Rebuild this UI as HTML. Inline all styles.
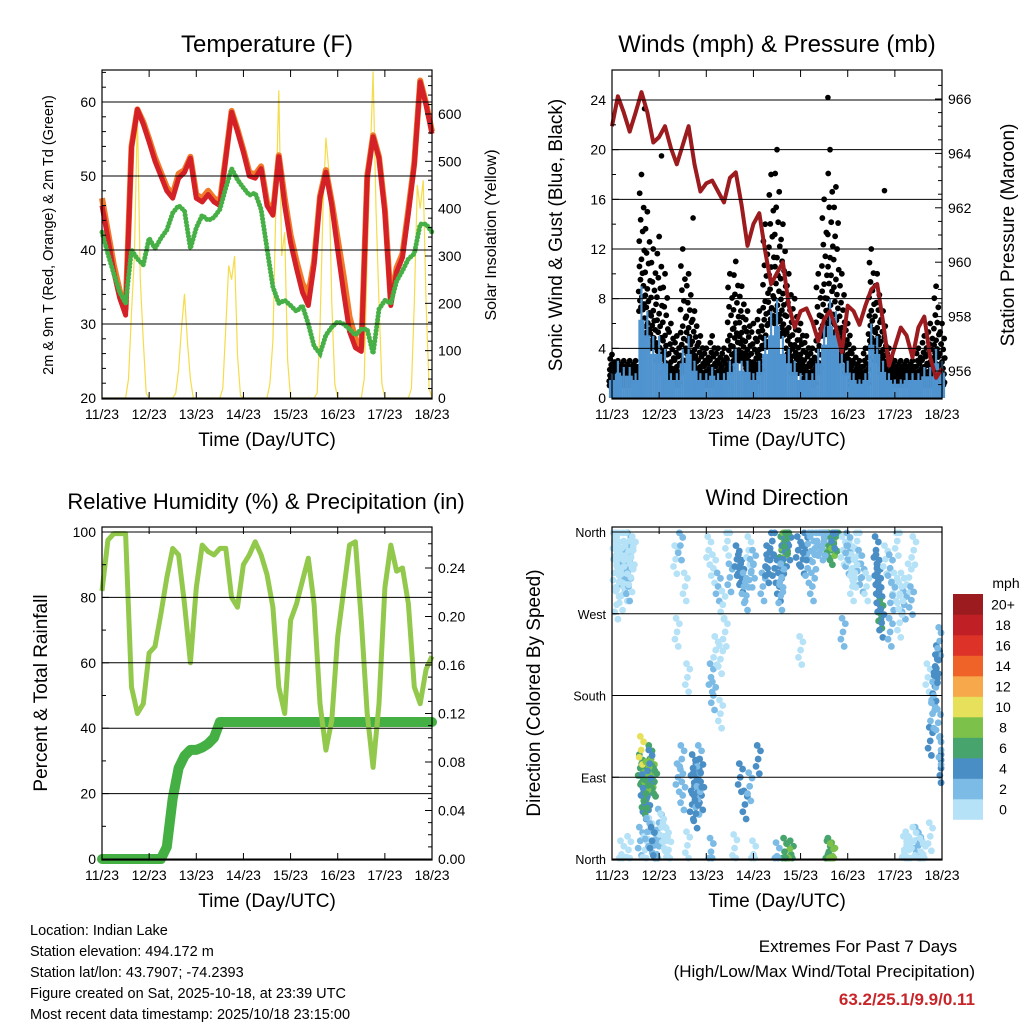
<!DOCTYPE html>
<html><head><meta charset="utf-8">
<style>
html,body{margin:0;padding:0;background:#fff;}
svg{display:block;font-family:"Liberation Sans",Arial,sans-serif;}
</style></head>
<body>
<svg id="fig" width="1024" height="1024" viewBox="0 0 1024 1024">
<text x="267" y="52" font-size="24" text-anchor="middle">Temperature (F)</text>
<text x="777" y="52" font-size="24" text-anchor="middle">Winds (mph) &amp; Pressure (mb)</text>
<text x="266" y="509" font-size="22" text-anchor="middle">Relative Humidity (%) &amp; Precipitation (in)</text>
<text x="777" y="505" font-size="22" text-anchor="middle">Wind Direction</text>
<text transform="translate(53,235) rotate(-90)" font-size="14.5" text-anchor="middle">2m &amp; 9m T (Red, Orange) &amp; 2m Td (Green)</text>
<text transform="translate(496,235) rotate(-90)" font-size="16" text-anchor="middle">Solar Insolation (Yellow)</text>
<text transform="translate(562,235) rotate(-90)" font-size="19" text-anchor="middle">Sonic Wind &amp; Gust (Blue, Black)</text>
<text transform="translate(1014,235) rotate(-90)" font-size="19" text-anchor="middle">Station Pressure (Maroon)</text>
<text transform="translate(47,693) rotate(-90)" font-size="19" text-anchor="middle">Percent &amp; Total Rainfall</text>
<text transform="translate(540,693) rotate(-90)" font-size="19" text-anchor="middle">Direction (Colored By Speed)</text>
<g font-size="14.5">
<text x="30" y="935">Location: Indian Lake</text>
<text x="30" y="956">Station elevation: 494.172 m</text>
<text x="30" y="977">Station lat/lon: 43.7907; -74.2393</text>
<text x="30" y="998">Figure created on Sat, 2025-10-18, at 23:39 UTC</text>
<text x="30" y="1019">Most recent data timestamp: 2025/10/18 23:15:00</text>
</g>
<text x="858" y="952" font-size="17" text-anchor="middle">Extremes For Past 7 Days</text>
<text x="975" y="977" font-size="17" text-anchor="end">(High/Low/Max Wind/Total Precipitation)</text>
<text x="975" y="1005" font-size="17" font-weight="bold" fill="#c8252a" text-anchor="end">63.2/25.1/9.9/0.11</text>
</svg>
<script>
// ---- shared time axis ----
const dayLabels = ["11/23","12/23","13/23","14/23","15/23","16/23","17/23","18/23"];
// ---- temperature panel data (3-hourly, days 0..7) ----
const tempRed = [46,41.6,37,33.5,31.2,53.8,59,57,54.6,52,50,48,47,49.7,50.5,52.4,47,46.5,47.5,46.5,46,52.4,58.6,56,53.2,50,49.7,51,46,44.7,52.6,46,41,37.5,34.3,32.5,38,47,50.5,46,40,34.3,29,26.8,26.3,49.7,55.3,52.4,45,32.5,37,39,45,51.5,62.7,59.6,55.7];
const tempOrange = [47,42.5,38,34.5,32,54,59,57.3,55,52.5,50.5,48.5,47.5,50.3,50.8,52.6,47.5,47,48,47,46.5,52.6,58.8,56.3,53.5,50.5,50.2,51.3,46.5,45,52.8,47,42,38.5,35.5,34,38.5,47.3,50.8,46.5,41.5,36.5,31,28,26.8,50,55.5,52.6,45.5,33,37.6,39.5,45.5,51.8,62.9,59.8,56];
const dewGreen = [42.4,39.5,36.8,34.3,32.8,40,38.8,38,41.6,40.2,41.6,42.7,45,46,45.3,40.2,43,44.7,44,44.4,45.5,48.4,51,49.5,48.4,47.4,47.7,45.5,40.2,35,32.8,33.2,32.5,31.7,32.5,30,27,26,28.5,29.6,30.3,30,29.3,28.5,29.3,29.3,26,32,33.2,32.8,35.8,37.2,38.8,39.5,43.5,43.5,42.4];
// solar insolation (W/m2), every 1.5 h
const solar = [0,0,0,0,0,0,0,0,0,40,180,300,600,250,120,10,
0,0,0,0,0,0,0,0,0,10,60,150,220,120,40,0,
0,0,0,0,0,0,0,0,0,20,150,280,250,300,90,5,
0,0,0,0,0,0,0,0,0,30,120,400,650,300,350,80,
0,0,0,0,0,0,0,0,0,10,150,400,550,480,200,30,
0,0,0,0,0,0,0,0,0,40,300,500,690,400,200,30,
0,0,0,0,0,0,0,0,0,20,200,450,400,460,200,20,0];
const tempTicks = [20,30,40,50,60];
const solarTicks = [0,100,200,300,400,500,600];
// ---- wind panel data (3-hourly) ----
const gustHi = [3.5,3,3,3,3,18,15,12,13,10,6,5,12,10,7,5,4,5,4,4,10,11,9,7,6,7,14,18,20,14,10,8,6,5,4,10,16,20,17,10,6,4,3,4,12,10,7,4,3,3,3,3,4,5,6,9,6];
const gustLo = [1,1,1,1,1,7,5,4,3,2,1,1,2,3,2,1,1,1,1,1,2,3,3,2,1,2,4,6,6,5,3,2,2,1,1,2,5,6,5,3,2,1,1,1,4,3,2,1,1,1,1,1,1,1,1,2,1];
const windHi = [2,3,2.5,2.5,2,9,7,5,5,4,2,2,4,5,3,2,2,2.5,2,2,3,4,3,3,2,3,5,7,8,5,4,3,2,2,2,4,6,8,7,4,3,2,1.5,2,6,5,3,2,1.5,1.5,2,2,2,2.5,2.5,4,3];
const windLo = [0.3,0.5,0.5,0.5,0.3,3,2.5,1.5,1.5,1,0.3,0.3,1,1.5,0.8,0.3,0.3,0.5,0.3,0.3,0.6,1,0.8,0.6,0.3,0.6,1.5,2.5,3,1.5,1,0.6,0.3,0.3,0.3,1,2,3,2.5,1,0.5,0.3,0.2,0.3,2,1.5,0.6,0.3,0.2,0.2,0.3,0.3,0.3,0.4,0.4,1,0.5];
const gustOutT = [0.69,4.58,5.78,1.05,1.72];
const gustOutV = [23.3,24.2,16.7,19.5,14.5];
const pressure = [965,966.1,965.5,964.8,965.5,966.25,965.5,964.4,964.6,965,964.2,963.6,964.3,965,963.6,962.6,962.9,963,962.6,962.2,963.1,963.3,962.1,960.6,961.4,961.8,960.4,959.2,959.6,960,958.4,957.6,958.2,958.3,957.8,957.1,957.9,958.2,957.6,956.7,958.4,958.2,957.7,958.4,959,959.2,957.8,956.2,956.9,957.6,957.3,956.5,957.6,958,956.5,955.75,956.1];
const windTicks = [0,4,8,12,16,20,24];
const presTicks = [956,958,960,962,964,966];
// ---- humidity panel ----
const rh = [82,97.5,99.5,99.5,99.5,52.6,44.5,47.5,63,65,75,86,95,93,78,60,83,96,94,93,95,95,80,77,90,93,97,93,87,77,52.6,44.5,73,78,85,92,78,47.5,33.3,42.5,68,82,96,97,73,44.5,28,47.5,83,96,88,89,78,52.6,47.5,58,62];
const rain = [0,0,0,0,0,0,0,0,0,0,0,0.01,0.05,0.075,0.085,0.09,0.09,0.092,0.095,0.1,0.113,0.113,0.113,0.113,0.113,0.113,0.113,0.113,0.113,0.113,0.113,0.113,0.113,0.113,0.113,0.113,0.113,0.113,0.113,0.113,0.113,0.113,0.113,0.113,0.113,0.113,0.113,0.113,0.113,0.113,0.113,0.113,0.113,0.113,0.113,0.113,0.113];
const rhTicks = [0,20,40,60,80,100];
const rainTicks = [0,0.04,0.08,0.12,0.16,0.20,0.24];
// ---- wind direction scatter (time day, direction deg, speed mph) ----
const dirT = [0.05,0.1,0.15,0.2,0.25,0.3,0.35,0.4,0.1,0.2,0.3,0.05,0.15,0.25,0.35,0.45,0.1,0.2,0.3,0.4,
0.6,0.65,0.7,0.75,0.8,0.85,0.9,0.62,0.7,0.78,0.86,0.68,0.74,0.8,0.66,0.72,
0.6,0.7,0.8,0.9,1.0,1.1,1.2,0.95,1.05,1.15,
1.35,1.45,1.55,1.4,1.5,1.6,1.38,1.48,
1.7,1.75,1.8,1.85,1.9,1.72,1.82,1.88,1.78,
2.05,2.15,2.25,2.35,2.45,2.1,2.2,2.3,2.4,2.5,2.15,2.3,
2.65,2.7,2.75,2.8,2.85,2.9,2.95,3.0,3.1,2.72,2.82,2.92,
3.2,3.3,3.4,3.3,3.6,3.65,3.7,3.75,3.8,3.62,3.72,3.66,3.68,3.7,
3.95,4.05,4.15,4.25,4.35,4.1,4.2,4.3,
4.5,4.55,4.6,4.65,4.7,4.75,4.58,4.68,4.6,4.65,4.7,
4.9,5.0,5.1,5.2,5.3,5.4,5.05,5.25,5.0,5.15,
5.6,5.62,5.65,5.68,5.7,5.66,5.64,5.72,
5.8,5.9,6.0,6.1,6.2,6.3,6.4,5.95,6.15,6.35,6.05,6.25,
6.3,6.45,6.6,6.75,6.5,6.7,
6.75,6.8,6.85,6.9,6.95,7.0,6.82,6.92,6.88,6.98,
0.2,0.35,1.6,2.1,2.6,3.0,3.5,4.0,4.9,5.1,5.9,6.1,6.2,6.4,6.55,0.75,0.85,3.45,3.55,3.6,3.58,4.45,4.5];
const dirD = [350,340,330,320,310,300,345,335,355,290,325,315,305,350,300,340,280,320,330,310,
100,90,80,70,110,95,85,120,60,75,88,65,92,105,78,72,
20,10,30,15,40,25,10,5,35,20,
330,345,300,90,70,200,250,110,
60,80,90,110,70,100,65,95,50,
340,320,300,280,350,200,230,160,250,310,180,220,
330,320,310,300,290,340,315,325,110,90,60,80,
300,330,350,320,340,350,355,345,5,330,2,8,338,352,
340,330,320,300,350,345,355,335,
350,355,345,340,350,355,5,3,8,2,358,
340,330,320,350,310,300,335,325,345,315,
340,320,300,280,270,290,310,260,
330,320,300,290,280,310,340,290,300,285,350,15,
10,20,5,25,15,200,
130,160,190,220,240,100,180,150,210,120,
5,10,15,8,12,5,3,230,250,300,250,260,10,20,8,30,20,320,300,310,290,345,350];
const dirS = [0,0,0,0,1,0,1,0,0,0,1,0,0,0,1,0,0,0,0,0,
5,6,7,4,5,8,6,9,4,3,5,6,7,4,3,5,
1,0,0,1,2,0,0,1,0,0,
0,1,0,2,1,0,0,2,
3,4,3,2,4,3,2,3,3,
0,0,1,0,0,1,0,0,0,1,2,0,
3,3,4,2,1,0,1,2,3,4,3,2,
2,3,3,4,6,7,5,4,6,3,7,6,3,5,
3,4,2,1,2,3,2,1,
6,7,6,5,7,6,5,7,6,8,4,
0,1,0,0,1,0,0,1,2,0,
4,4,3,4,5,4,4,3,
0,1,0,0,1,0,0,1,0,1,0,0,
0,1,0,0,1,0,
3,2,4,3,2,3,2,1,3,2,
0,0,0,1,0,0,1,0,1,0,1,0,0,0,0,2,3,3,3,2,2,1,1];
const dirLabels = ["North","East","South","West","North"];
const dirTickVals = [0,90,180,270,360];
const cbLabels = ["0","2","4","6","8","10","12","14","16","18","20+"];
const cbColors = ["#b5e2f7","#7cbbe6","#4a8ec6","#47a46c","#7cc24a","#e6e05a","#f6a84a","#ef6328","#dc3228","#c01f26","#9b1b1e"];

const NS = "http://www.w3.org/2000/svg";
const svg = document.getElementById("fig");
function mk(tag, attrs, parent){ const e=document.createElementNS(NS,tag); for(const k in attrs) e.setAttribute(k,attrs[k]); (parent||svg).appendChild(e); return e; }
function scale(d0,d1,r0,r1){ return v => r0 + (v-d0)/(d1-d0)*(r1-r0); }
function tIdx(i,n){ return i*7/(n-1); }
function linePath(arr,xs,ys){ return arr.map((v,i)=>(i?"L":"M")+xs(tIdx(i,arr.length)).toFixed(1)+","+ys(v).toFixed(1)).join(""); }

function drawAxes(p){
  const {x0,x1,y0,y1,xs,name} = p;
  const g = mk("g",{});
  
  
  p.leftTicks.forEach((v,i)=>{
    const y = p.ly(v);
    if(p.grid) mk("line",{x1:x0,x2:x1,y1:y,y2:y,stroke:"#000","stroke-width":1},g);
    mk("line",{x1:x0,x2:x0+7,y1:y,y2:y,stroke:"#000"},g);
    const t = mk("text",{x:x0-6,y:y+5,"font-size":p.lfs||14,"text-anchor":"end"},g);
    t.textContent = p.leftFmt ? p.leftFmt(v,i) : v;
    
    
  });
  if(p.leftMinor) p.leftMinor.forEach(v=>{ const y=p.ly(v); mk("line",{x1:x0,x2:x0+4,y1:y,y2:y,stroke:"#000"},g); });
  if(p.rightTicks){
    p.rightTicks.forEach(v=>{
      const y=p.ry(v);
      mk("line",{x1:x1-7,x2:x1,y1:y,y2:y,stroke:"#000"},g);
      const t = mk("text",{x:x1+6,y:y+5,"font-size":14},g);
      t.textContent = p.rightFmt ? p.rightFmt(v) : v;
      
      
    });
    if(p.rightMinor) p.rightMinor.forEach(v=>{ const y=p.ry(v); mk("line",{x1:x1-4,x2:x1,y1:y,y2:y,stroke:"#000"},g); });
  }
  dayLabels.forEach((l,i)=>{
    const x = xs(i);
    mk("line",{x1:x,x2:x,y1:y1,y2:y1-7,stroke:"#000"},g);
    mk("line",{x1:x,x2:x,y1:y0,y2:y0+7,stroke:"#000"},g);
    const t = mk("text",{x:x,y:y1+20,"font-size":14,"text-anchor":"middle"},g);
    t.textContent = l;
    
    
  });
  const xt = mk("text",{x:(x0+x1)/2,y:y1+47,"font-size":19,"text-anchor":"middle"},g);
  xt.textContent = "Time (Day/UTC)";
  
  
  mk("rect",{x:x0,y:y0,width:x1-x0,height:y1-y0,fill:"none",stroke:"#000","stroke-width":1.2},g);
}

// ===== Temperature panel =====
(function(){
  const x0=102,x1=432,y0=70,y1=399;
  const xs=scale(0,7,x0,x1), ly=scale(20,60,398,102), ry=scale(0,600,398,114);
  const g = mk("g",{});
  
  
  const sp = solar.map((v,i)=>(i?"L":"M")+xs(i*7/(solar.length-1)).toFixed(1)+","+ry(v).toFixed(1)).join("");
  const s = mk("path",{d:sp,fill:"none",stroke:"#f5dc4a","stroke-width":1.2},g);
  
  
  const o = mk("path",{d:linePath(tempOrange,xs,ly),fill:"none",stroke:"#f07a2a","stroke-width":6,"stroke-linejoin":"round"},g);
  
  
  const r = mk("path",{d:linePath(tempRed,xs,ly),fill:"none",stroke:"#d42027","stroke-width":5,"stroke-linejoin":"round"},g);
  
  
  const d = mk("path",{d:linePath(dewGreen,xs,ly),fill:"none",stroke:"#46b046","stroke-width":5,"stroke-dasharray":"0.1 3.5","stroke-linecap":"round"},g);
  
  
  const minor=[]; for(let v=22;v<=64;v+=2) if(v%10) minor.push(v);
  const rminor=[]; for(let v=20;v<=680;v+=20) if(v%100) rminor.push(v);
  drawAxes({x0,x1,y0,y1,xs,ly,ry,name:"temperature",leftTicks:tempTicks,rightTicks:solarTicks,grid:true,leftMinor:minor,rightMinor:rminor});
})();

// ===== Winds panel =====
(function(){
  const x0=612,x1=942,y0=70,y1=399;
  const xs=scale(0,7,x0,x1), ly=scale(0,24,398,100), ry=scale(956,966,371,99);
  const g = mk("g",{});
  
  
  const fr = [0,0.04,0.08,0.12,0.16,0.2,0.25,0.3,0.35,0.4,0.45,0.5,0.56,0.62,0.68,0.75,0.82,0.9,1];
  const dx = [-2.5,1.5,-0.5,2.5,-1.5,0.5,-2.8,2,-1,1,-2,0,2.8,-2.2,1.2,-0.8,2.2,-1.8,0];
  gustHi.forEach((v,i)=>{
    const x = xs(tIdx(i,gustHi.length));
    fr.forEach((f,k)=>{
      const val = gustLo[i] + (v-gustLo[i])*Math.pow(f,1.4);
      const c = mk("circle",{cx:x+dx[k],cy:ly(val),r:2.9,fill:"#000"},g);
      
      
    });
  });
  gustOutT.forEach((t,i)=>{
    const c = mk("circle",{cx:xs(t),cy:ly(gustOutV[i]),r:2.8,fill:"#000"},g);
    
    
  });
  windHi.forEach((v,i)=>{
    const x = xs(tIdx(i,windHi.length));
    [-2,0,2].forEach((o,k)=>{
      const b = mk("line",{x1:x+o,x2:x+o,y1:ly(0),y2:ly(k===1?v:(v+windLo[i])/2+0.3),stroke:"#4f93cf","stroke-width":2.2},g);
      
      
    });
  });
  const p = mk("path",{d:linePath(pressure,xs,ry),fill:"none",stroke:"#9b1b1e","stroke-width":4,"stroke-linejoin":"round"},g);
  
  
  const minor=[2,6,10,14,18,22];
  const rminor=[]; for(let v=955.5;v<=966.6;v+=0.5) if(v%2) rminor.push(v);
  drawAxes({x0,x1,y0,y1,xs,ly,ry,name:"winds",leftTicks:windTicks,rightTicks:presTicks,grid:true,leftMinor:minor,rightMinor:rminor});
})();

// ===== Humidity panel =====
(function(){
  const x0=102,x1=432,y0=527,y1=860;
  const xs=scale(0,7,x0,x1), ly=scale(0,100,859,532), ry=scale(0,0.24,859,568);
  const g = mk("g",{});
  
  
  const rr = mk("path",{d:linePath(rain,xs,ry),fill:"none",stroke:"#44b043","stroke-width":10,"stroke-linejoin":"round","stroke-linecap":"round"},g);
  
  
  const h = mk("path",{d:linePath(rh,xs,ly),fill:"none",stroke:"#92c94c","stroke-width":5,"stroke-linejoin":"round"},g);
  
  
  const minor=[10,30,50,70,90];
  const rminor=[]; for(let v=0.01;v<0.27;v+=0.01) if(Math.round(v*100)%4) rminor.push(v);
  drawAxes({x0,x1,y0,y1,xs,ly,ry,name:"humidity",leftTicks:rhTicks,rightTicks:rainTicks,grid:true,leftMinor:minor,rightMinor:rminor,rightFmt:v=>v.toFixed(2)});
})();

// ===== Wind direction panel =====
(function(){
  const x0=612,x1=942,y0=527,y1=860;
  const xs=scale(0,7,x0,x1), ly=scale(0,360,859,532);
  const g = mk("g",{});
  
  
  const offT=[0,0.05,-0.045,0.025,-0.02], offD=[0,9,-8,-16,15];
  const n = Math.min(dirT.length, dirD.length, dirS.length);
  for(let i=0;i<n;i++){
    const ci = Math.min(10,Math.round(dirS[i]/2));
    offT.forEach((ot,k)=>{
      const d = Math.max(1,Math.min(359,dirD[i]+offD[k]));
      const c = mk("circle",{cx:xs(Math.max(0.02,Math.min(6.98,dirT[i]+ot))),cy:ly(d),r:3.4,fill:cbColors[ci]},g);
      
      
    });
  }
  drawAxes({x0,x1,y0,y1,xs,ly,name:"wind-direction",leftTicks:dirTickVals,grid:true,lfs:12.5,leftFmt:(v,i)=>dirLabels[i]});
  const cb = mk("g",{});
  
  
  const top=594,h=20.5;
  cbColors.forEach((c,i)=>{
    const y = top + (10-i)*h;
    const r = mk("rect",{x:953,y:y,width:30,height:h+0.3,fill:c},cb);
    
    
    const t = mk("text",{x:1003,y:y+h/2+5,"font-size":14,"text-anchor":"middle"},cb);
    t.textContent = cbLabels[i];
    
    
  });
  const u = mk("text",{x:1006,y:588,"font-size":14,"text-anchor":"middle"},cb);
  u.textContent = "mph";
  
  
})();
</script>
</body></html>
